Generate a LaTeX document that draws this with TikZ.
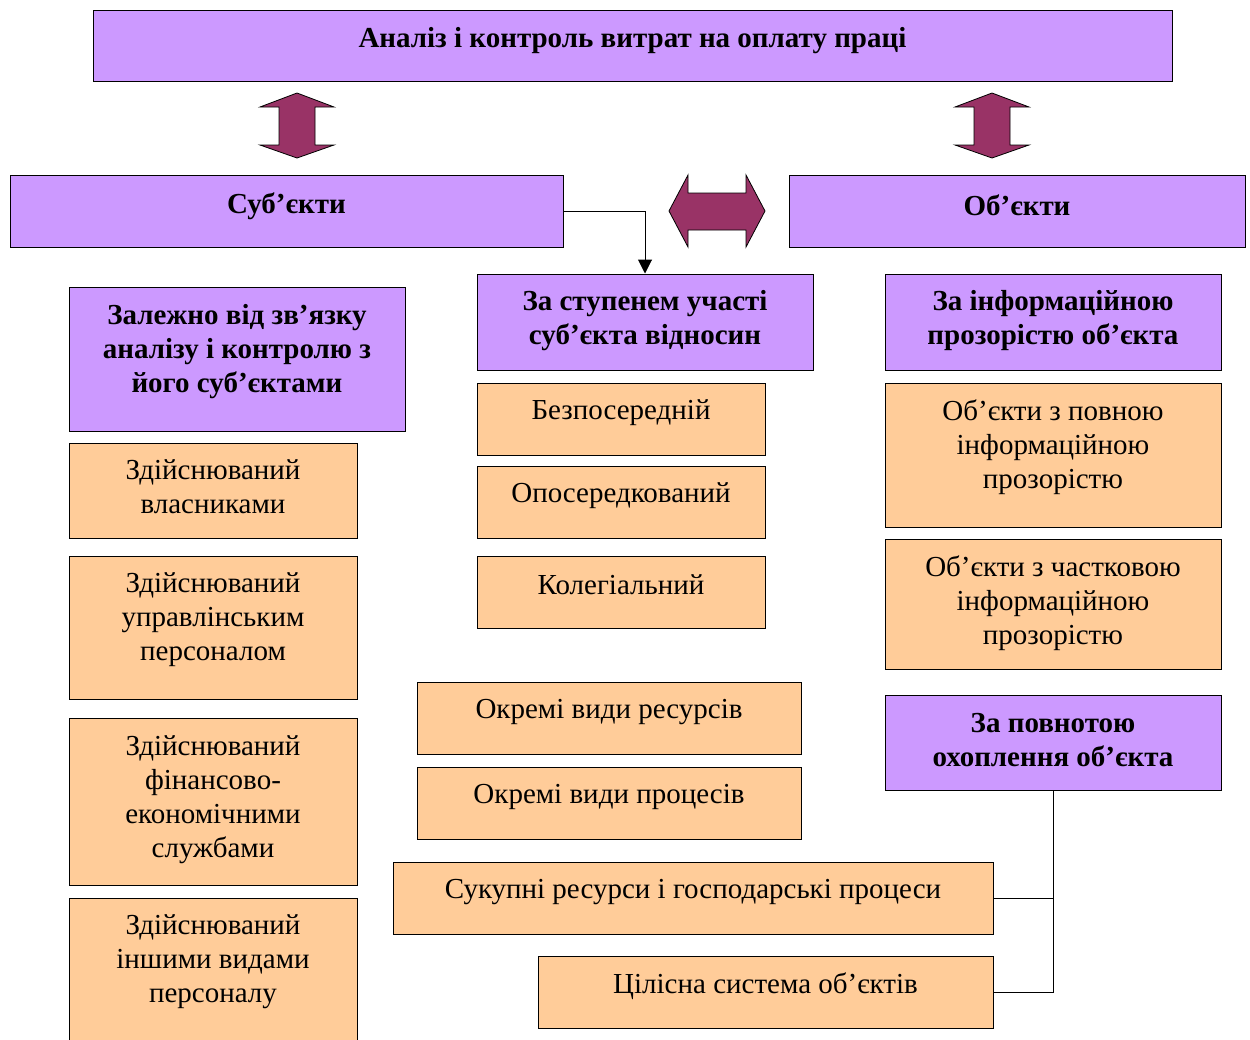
\documentclass[tikz,border=0pt]{standalone}
\usepackage{fontspec}
\setmainfont{Liberation Serif}
\usetikzlibrary{arrows.meta}
\definecolor{pur}{HTML}{CC99FF}
\definecolor{org}{HTML}{FFCC99}
\definecolor{arr}{HTML}{993366}
\tikzset{
  pbox/.style={draw=black, line width=1pt, fill=pur, inner sep=0pt},
  obox/.style={draw=black, line width=1pt, fill=org, inner sep=0pt},
  btxt/.style={font=\fontsize{29}{34}\selectfont\bfseries, align=center, inner sep=0pt},
  ntxt/.style={font=\fontsize{29}{34}\selectfont, align=center, inner sep=0pt},
  bigarrow/.style={draw=black, line width=0.8pt, fill=arr},
  conn/.style={draw=black, line width=1pt}
}
% \bx{name}{boxstyle}{x1}{y1}{x2}{y2}{textstyle}{dy}{text}
\newcommand{\bx}[9]{%
  \node[#2, minimum width={#5-#3}, minimum height={#6-#4}] (#1) at ({(#3+#5)/2},{(#4+#6)/2}) {};
  \node[#7] (#1-t) at ([yshift=#8]#1.center) {#9};
}
\begin{document}
\begin{tikzpicture}[x=1pt,y=-1pt]
\useasboundingbox (0,0) rectangle (1250,1039);
\clip (0,0) rectangle (1250,1039);
\fill[white] (0,0) rectangle (1250,1039);

\bx{title}{pbox}{93}{10}{1172}{81}{btxt}{5}{Аналіз і контроль витрат на оплату праці}
\bx{subj}{pbox}{10}{175}{563}{247}{btxt}{5}{Суб’єкти}
\bx{obj}{pbox}{789}{175}{1245}{247}{btxt}{6}{Об’єкти}

% vertical double arrows
\foreach \cx/\nm in {297/a1,992/a2}{
  \draw[bigarrow] (\cx,93) -- (\cx+37,107) -- (\cx+18,107) -- (\cx+18,145) -- (\cx+37,145)
    -- (\cx,158) -- (\cx-37,145) -- (\cx-18,145) -- (\cx-18,107) -- (\cx-37,107) -- cycle;
}
% horizontal double arrow
\draw[bigarrow] (669,211) -- (688,175) -- (688,193) -- (746,193) -- (746,175) -- (765,211)
  -- (746,247) -- (746,230) -- (688,230) -- (688,247) -- cycle;

\bx{dep}{pbox}{69}{287}{405}{431}{btxt}{7}{Залежно від зв’язку\\аналізу і контролю з\\його суб’єктами}
\bx{step}{pbox}{477}{274}{813}{370}{btxt}{1}{За ступенем участі\\суб’єкта відносин}
\bx{info}{pbox}{885}{274}{1221}{370}{btxt}{1}{За інформаційною\\прозорістю об’єкта}

\bx{d1}{obox}{69}{443}{357}{538}{ntxt}{4}{Здійснюваний\\власниками}
\bx{d2}{obox}{69}{556}{357}{699}{ntxt}{8}{Здійснюваний\\управлінським\\персоналом}
\bx{d3}{obox}{69}{718}{357}{885}{ntxt}{2}{Здійснюваний\\фінансово-\\економічними\\службами}
\bx{d4}{obox}{69}{898}{357}{1060}{ntxt}{17}{Здійснюваний\\іншими видами\\персоналу}

\bx{s1}{obox}{477}{383}{765}{455}{ntxt}{6}{Безпосередній}
\bx{s2}{obox}{477}{466}{765}{538}{ntxt}{6}{Опосередкований}
\bx{s3}{obox}{477}{556}{765}{628}{ntxt}{7}{Колегіальний}

\bx{i1}{obox}{885}{383}{1221}{527}{ntxt}{8}{Об’єкти з повною\\інформаційною\\прозорістю}
\bx{i2}{obox}{885}{539}{1221}{669}{ntxt}{1}{Об’єкти з частковою\\інформаційною\\прозорістю}

\bx{r1}{obox}{417}{682}{801}{754}{ntxt}{6}{Окремі види ресурсів}
\bx{r2}{obox}{417}{767}{801}{839}{ntxt}{6}{Окремі види процесів}

\bx{full}{pbox}{885}{695}{1221}{790}{btxt}{2}{За повнотою\\охоплення об’єкта}
\bx{sum}{obox}{393}{862}{993}{934}{ntxt}{6}{Сукупні ресурси і господарські процеси}
\bx{whole}{obox}{538}{956}{993}{1028}{ntxt}{6}{Цілісна система об’єктів}

% connectors
\draw[conn, -{Triangle[length=14pt,width=14pt]}] (subj.east) -| (step.north);
\draw[conn] (full.south) |- (whole.east);
\draw[conn] (sum.east) -| (full.south);
\end{tikzpicture}
\end{document}
